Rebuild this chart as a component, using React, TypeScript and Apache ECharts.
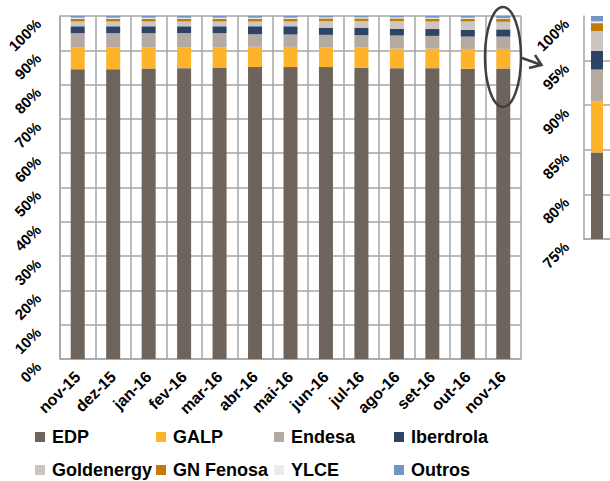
import React, { useEffect, useRef } from "react";
import * as echarts from "echarts";

const categories = ["nov-15", "dez-15", "jan-16", "fev-16", "mar-16", "abr-16", "mai-16", "jun-16", "jul-16", "ago-16", "set-16", "out-16", "nov-16"];
const seriesNames = ["EDP", "GALP", "Endesa", "Iberdrola", "Goldenergy", "GN Fenosa", "YLCE", "Outros"];
const edp = [84.5, 84.5, 84.7, 84.8, 85.0, 85.1, 85.1, 85.1, 84.9, 84.8, 84.8, 84.6, 84.7];
const galp = [6.3, 6.3, 6.2, 6.1, 5.9, 5.9, 5.9, 5.8, 6.0, 5.7, 5.7, 5.8, 5.7];
const endesa = [4.2, 4.2, 4.1, 4.1, 4.1, 3.7, 3.6, 3.6, 3.5, 3.8, 3.7, 3.6, 3.6];
const iberdrola = [2.0, 2.0, 2.0, 2.0, 2.0, 2.3, 2.4, 2.1, 2.2, 2.0, 2.0, 2.0, 2.1];
const goldenergy = [1.4, 1.4, 1.4, 1.4, 1.4, 1.4, 1.4, 1.9, 1.9, 2.2, 2.2, 2.4, 2.2];
const gnFenosa = [0.8, 0.8, 0.8, 0.8, 0.8, 0.8, 0.8, 0.8, 0.8, 0.8, 0.8, 0.8, 0.9];
const ylce = [0.3, 0.3, 0.3, 0.3, 0.3, 0.3, 0.3, 0.3, 0.3, 0.3, 0.3, 0.3, 0.2];
const outros = [0.5, 0.5, 0.5, 0.5, 0.5, 0.5, 0.5, 0.4, 0.4, 0.4, 0.5, 0.5, 0.6];
const colors = ["#6e645b", "#fdb42b", "#b4aaa1", "#2e4466", "#cdc5bf", "#c27c05", "#ebebeb", "#7096c8"];
const mainTicks = { min: 0, max: 100, interval: 10 };
const insetTicks = { min: 75, max: 100, interval: 5 };

export default function App() {
  const ref = useRef<HTMLDivElement>(null);
  useEffect(() => {
    if (!ref.current) return;
    const chart = echarts.init(ref.current, null, { renderer: "svg" });
    const allData = [edp, galp, endesa, iberdrola, goldenergy, gnFenosa, ylce, outros];
    const last = categories.length - 1;
    const gridColor = "#a6a6a6";
    const font = "'Liberation Sans', Arial, sans-serif";
    const mainSeries = seriesNames.map((name, i) => ({
      name,
      type: "bar",
      stack: "main",
      xAxisIndex: 0,
      yAxisIndex: 0,
      barWidth: 14,
      itemStyle: { color: colors[i] },
      data: allData[i],
    }));
    const insetSeries = seriesNames.map((name, i) => ({
      name,
      type: "bar",
      stack: "inset",
      xAxisIndex: 1,
      yAxisIndex: 1,
      barWidth: 12,
      clip: true,
      itemStyle: { color: colors[i] },
      data: [allData[i][last]],
    }));
    const colX = [35, 156, 274, 394];
    const rowY = [428, 461];
    const legends = seriesNames.map((name, i) => ({
      left: colX[i % 4],
      top: rowY[Math.floor(i / 4)],
      icon: "rect",
      itemWidth: 10,
      itemHeight: 10,
      selectedMode: false,
      padding: 0,
      data: [name],
      textStyle: { fontFamily: font, fontWeight: "bold", fontSize: 18, color: "#000", padding: [0, 0, 0, 2] },
    }));
    const insetSplitColors = [gridColor, gridColor, gridColor, gridColor, gridColor, "rgba(0,0,0,0)"];
    chart.setOption({
      animation: false,
      textStyle: { fontFamily: font },
      grid: [
        { left: 60, top: 16, width: 461, height: 343 },
        { left: 584, top: 16, width: 30, height: 223 },
      ],
      legend: legends,
      xAxis: [
        {
          type: "category",
          gridIndex: 0,
          data: categories,
          axisLine: { lineStyle: { color: gridColor, width: 1.5 } },
          axisTick: { show: false },
          splitLine: { show: true, lineStyle: { color: gridColor, width: 1.5 } },
          axisLabel: { interval: 0, rotate: 45, margin: 15, fontSize: 16, fontWeight: "bold", color: "#000", fontFamily: font },
        },
        {
          type: "category",
          gridIndex: 1,
          data: [categories[last]],
          axisLine: { lineStyle: { color: gridColor, width: 1.5 } },
          axisTick: { show: false },
          axisLabel: { show: false },
        },
      ],
      yAxis: [
        {
          type: "value",
          gridIndex: 0,
          ...mainTicks,
          axisLine: { show: true, lineStyle: { color: gridColor, width: 1.5 } },
          axisTick: { show: false },
          splitLine: { show: true, lineStyle: { color: gridColor, width: 1.5 } },
          axisLabel: { rotate: 45, margin: 27, fontSize: 15, fontWeight: "bold", color: "#000", fontFamily: font, formatter: "{value}%", verticalAlign: "top" },
        },
        {
          type: "value",
          gridIndex: 1,
          ...insetTicks,
          axisLine: { show: true, lineStyle: { color: gridColor, width: 1.5 } },
          axisTick: { show: false },
          splitLine: { show: true, lineStyle: { color: insetSplitColors, width: 1.5 } },
          axisLabel: { rotate: 45, margin: 23, fontSize: 15, fontWeight: "bold", color: "#000", fontFamily: font, formatter: "{value}%", verticalAlign: "top" },
        },
      ],
      graphic: [
        { type: "ellipse", shape: { cx: 503, cy: 57, rx: 18, ry: 50 }, style: { fill: "none", stroke: "#404040", lineWidth: 2.5 }, z: 100 },
        { type: "polyline", shape: { points: [[522, 58], [541.5, 65]] }, style: { fill: "none", stroke: "#404040", lineWidth: 2.5 }, z: 100 },
        { type: "polyline", shape: { points: [[535, 55], [541.5, 65], [529, 68]] }, style: { fill: "none", stroke: "#404040", lineWidth: 2.5 }, z: 100 },
      ],
      series: [...mainSeries, ...insetSeries],
    });
    return () => chart.dispose();
  }, []);
  return <div ref={ref} style={{ width: 610, height: 481, position: "absolute", left: 0, top: 0 }} />;
}
